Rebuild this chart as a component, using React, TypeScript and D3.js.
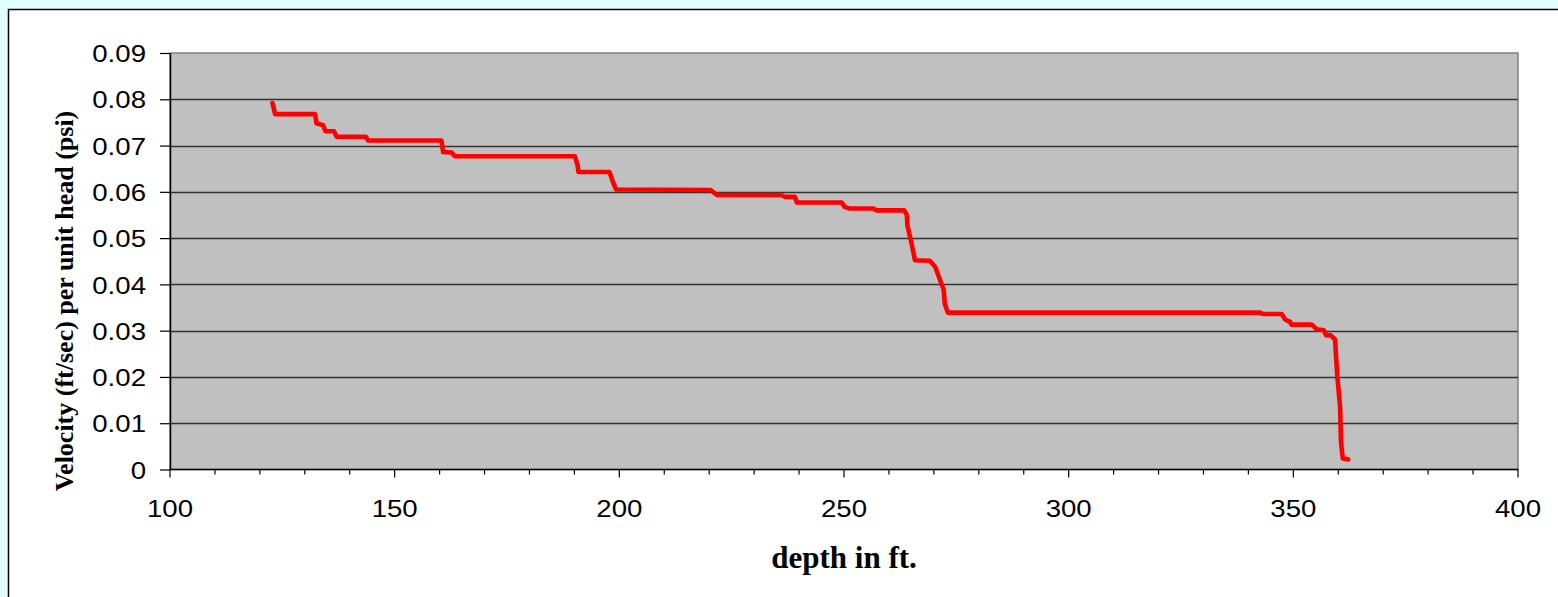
import { useEffect, useRef } from "react";
import * as d3 from "d3";

// depth (ft) and velocity per unit head
const depth = [
  122.8, 123.4, 132.3, 132.6, 134.1, 134.6, 136.5, 137.1, 143.6, 144.1,
  160.4, 160.8, 162.7, 163.4, 190.1, 190.7, 190.9, 197.8, 198.7, 199.3,
  220.3, 221.7, 236.1, 236.9, 239.1, 239.5, 249.5, 250.2, 251.3, 256.5,
  257.3, 263.4, 264.0, 264.1, 264.7, 265.2, 265.8, 269.1, 270.3, 271.4,
  272.2, 272.4, 273.1, 342.6, 343.3, 347.4, 348.2, 349.3, 349.6, 354.1,
  355.2, 356.8, 357.3, 358.3, 359.3, 359.5, 359.8, 360.4, 360.5, 360.6,
  361.0, 362.2,
];
const velocity = [
  0.0792, 0.0768, 0.0768, 0.0748, 0.0744, 0.0731, 0.0731, 0.0719, 0.0719, 0.0711,
  0.0711, 0.0686, 0.0685, 0.0677, 0.0677, 0.0658, 0.0643, 0.0643, 0.0618, 0.0605,
  0.0604, 0.0593, 0.0593, 0.0589, 0.0589, 0.0577, 0.0577, 0.0567, 0.0564, 0.0564,
  0.0560, 0.0560, 0.0550, 0.0528, 0.0503, 0.0481, 0.0452, 0.0451, 0.0438, 0.0409,
  0.0388, 0.0359, 0.0339, 0.0339, 0.0336, 0.0336, 0.0324, 0.0319, 0.0313, 0.0313,
  0.0303, 0.0301, 0.0290, 0.0290, 0.0281, 0.0244, 0.0200, 0.0136, 0.0100, 0.0060,
  0.0024, 0.0022,
];
const xTicks = [100, 150, 200, 250, 300, 350, 400];
const xMinorTicks = d3.range(100, 401, 10);
const yTicks = [0, 0.01, 0.02, 0.03, 0.04, 0.05, 0.06, 0.07, 0.08, 0.09];

const W = 1558;
const H = 597;

export default function App() {
  const svgRef = useRef<SVGSVGElement>(null);

  useEffect(() => {
    const svg = d3.select(svgRef.current);
    svg.selectAll("*").remove();

    const plot = { left: 170, top: 53, right: 1518, bottom: 469.5 };

    const x = d3.scaleLinear().domain([100, 400]).range([plot.left, plot.right]);
    const y = d3.scaleLinear().domain([0, 0.09]).range([plot.bottom, plot.top]);

    // page + chart frame
    svg.append("rect").attr("width", W).attr("height", H).attr("fill", "#e0ffff");
    svg.append("rect")
      .attr("x", 8.5).attr("y", 9.5)
      .attr("width", W).attr("height", H)
      .attr("fill", "#fff").attr("stroke", "#000").attr("stroke-width", 1.5);

    // plot area
    svg.append("rect")
      .attr("x", plot.left).attr("y", plot.top)
      .attr("width", plot.right - plot.left).attr("height", plot.bottom - plot.top)
      .attr("fill", "#c0c0c0").attr("stroke", "#808080").attr("stroke-width", 1.5);

    // gridlines
    svg.append("g")
      .selectAll("line")
      .data(yTicks.filter((t) => t > 0 && t < 0.09))
      .join("line")
      .attr("x1", plot.left).attr("x2", plot.right)
      .attr("y1", (d) => Math.round(y(d)) + 0.5).attr("y2", (d) => Math.round(y(d)) + 0.5)
      .attr("stroke", "#333").attr("stroke-width", 1.3);

    // y axis
    const yAxis = d3.axisLeft(y).tickValues(yTicks).tickSize(10).tickSizeOuter(0)
      .tickFormat((d) => (d === 0 ? "0" : d3.format(".2f")(d as number)));
    const gy = svg.append("g").attr("transform", `translate(${plot.left},0)`).call(yAxis);
    gy.select(".domain").attr("stroke", "#000").attr("stroke-width", 1.5);
    gy.selectAll(".tick line").attr("stroke", "#000").attr("stroke-width", 1.2);
    gy.selectAll(".tick text").remove();
    gy.selectAll(".tick")
      .append("text")
      .attr("transform", "translate(-24,0) scale(1.15,1)")
      .attr("dy", "0.36em")
      .attr("text-anchor", "end")
      .attr("fill", "#000")
      .style("font-family", "'Liberation Sans', Arial, sans-serif")
      .style("font-size", "24px")
      .text((d) => (d === 0 ? "0" : d3.format(".2f")(d as number)));

    // x axis
    const gx = svg.append("g").attr("transform", `translate(0,${plot.bottom})`);
    gx.append("line")
      .attr("x1", plot.left).attr("x2", plot.right)
      .attr("stroke", "#000").attr("stroke-width", 1.5);
    gx.selectAll("line.minor")
      .data(xMinorTicks)
      .join("line")
      .attr("class", "minor")
      .attr("x1", (d) => x(d)).attr("x2", (d) => x(d))
      .attr("y1", 0).attr("y2", (d) => (d % 50 === 0 ? 8 : 5))
      .attr("stroke", "#000").attr("stroke-width", 1.2);
    gx.selectAll("text")
      .data(xTicks)
      .join("text")
      .attr("transform", (d) => `translate(${x(d)},47) scale(1.15,1)`)
      .attr("text-anchor", "middle")
      .attr("fill", "#000")
      .style("font-family", "'Liberation Sans', Arial, sans-serif")
      .style("font-size", "24px")
      .text((d) => String(d));

    // curve
    const pts = depth.map((d, i) => [d, velocity[i]] as [number, number]);
    svg.append("path")
      .datum(pts)
      .attr("fill", "none")
      .attr("stroke", "#ff0000")
      .attr("stroke-width", 4.6)
      .attr("stroke-linejoin", "round")
      .attr("stroke-linecap", "round")
      .attr("d", d3.line<[number, number]>().x((d) => x(d[0])).y((d) => y(d[1])));

    // axis titles
    svg.append("text")
      .attr("x", (plot.left + plot.right) / 2)
      .attr("y", 568)
      .attr("text-anchor", "middle")
      .style("font-family", "'Liberation Serif', 'Times New Roman', serif")
      .style("font-weight", "bold")
      .style("font-size", "31px")
      .text("depth in ft.");

    svg.append("text")
      .attr("transform", "translate(73,301) rotate(-90)")
      .attr("text-anchor", "middle")
      .style("font-family", "'Liberation Serif', 'Times New Roman', serif")
      .style("font-weight", "bold")
      .style("font-size", "26px")
      .text("Velocity (ft/sec) per unit head (psi)");
  }, []);

  return (
    <svg
      ref={svgRef}
      width={W}
      height={H}
      style={{ position: "fixed", left: 0, top: 0, display: "block" }}
    />
  );
}
